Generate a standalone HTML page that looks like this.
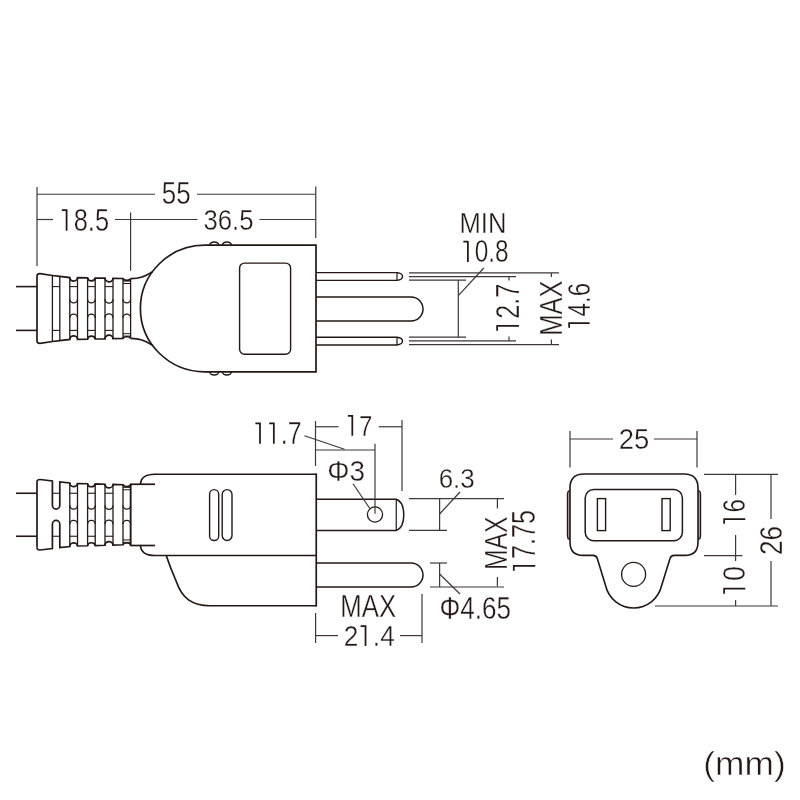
<!DOCTYPE html>
<html><head><meta charset="utf-8"><style>
html,body{margin:0;padding:0;background:#fff;}
svg{display:block;will-change:transform;}
text{font-family:"Liberation Sans",sans-serif;fill:#231815;stroke:#fff;}
</style></head><body>
<svg width="800" height="800" viewBox="0 0 800 800">
<rect width="800" height="800" fill="#fff"/>
<line x1="16" y1="286.6" x2="37" y2="286.6" stroke="#231815" stroke-width="1.6"/>
<line x1="16" y1="330.4" x2="37" y2="330.4" stroke="#231815" stroke-width="1.6"/>
<path d="M37,276.10 Q37,273.60 40,273.70 L52.4,275.47 L59.8,276.36 L69.8,277.58 A3.85,3.4 0 0 0 77.5,277.73 L87.6,277.89 A3.85,3.4 0 0 0 95.2,278.02 L105,278.18 A3.85,3.4 0 0 0 113,278.32 L123,278.48 A3.85,2.0 0 0 0 130.6,278.61" stroke="#231815" stroke-width="1.7" fill="none"/>
<path d="M37,340.90 Q37,343.40 40,343.30 L52.4,341.53 L59.8,340.64 L69.8,339.42 A3.85,3.4 0 0 1 77.5,339.27 L87.6,339.11 A3.85,3.4 0 0 1 95.2,338.98 L105,338.82 A3.85,3.4 0 0 1 113,338.68 L123,338.52 A3.85,2.0 0 0 1 130.6,338.39" stroke="#231815" stroke-width="1.7" fill="none"/>
<line x1="37" y1="276.1" x2="37" y2="340.9" stroke="#231815" stroke-width="1.7"/>
<line x1="52.4" y1="275.4666666666667" x2="52.4" y2="341.5333333333333" stroke="#231815" stroke-width="1.3"/>
<line x1="59.8" y1="276.3636363636364" x2="59.8" y2="340.6363636363636" stroke="#231815" stroke-width="1.3"/>
<line x1="69.8" y1="277.5757575757576" x2="69.8" y2="339.4242424242424" stroke="#231815" stroke-width="1.3"/>
<line x1="77.5" y1="277.725" x2="77.5" y2="339.275" stroke="#231815" stroke-width="1.3"/>
<line x1="87.6" y1="277.8933333333334" x2="87.6" y2="339.1066666666666" stroke="#231815" stroke-width="1.3"/>
<line x1="95.2" y1="278.02000000000004" x2="95.2" y2="338.97999999999996" stroke="#231815" stroke-width="1.3"/>
<line x1="105" y1="278.18333333333334" x2="105" y2="338.81666666666666" stroke="#231815" stroke-width="1.3"/>
<line x1="113" y1="278.31666666666666" x2="113" y2="338.68333333333334" stroke="#231815" stroke-width="1.3"/>
<line x1="123" y1="278.48333333333335" x2="123" y2="338.51666666666665" stroke="#231815" stroke-width="1.3"/>
<line x1="130.6" y1="278.61" x2="130.6" y2="338.39" stroke="#231815" stroke-width="1.3"/>
<line x1="52.4" y1="286.6" x2="59.8" y2="286.6" stroke="#231815" stroke-width="1.1"/>
<line x1="52.4" y1="330.4" x2="59.8" y2="330.4" stroke="#231815" stroke-width="1.1"/>
<line x1="69.8" y1="286.6" x2="77.5" y2="286.6" stroke="#231815" stroke-width="1.1"/>
<line x1="69.8" y1="330.4" x2="77.5" y2="330.4" stroke="#231815" stroke-width="1.1"/>
<path d="M69.8,299.30 A3.85,3.66 0 0 0 77.5,299.30" stroke="#231815" stroke-width="1.3" fill="none"/>
<path d="M69.8,317.70 A3.85,3.66 0 0 1 77.5,317.70" stroke="#231815" stroke-width="1.3" fill="none"/>
<line x1="87.6" y1="286.6" x2="95.2" y2="286.6" stroke="#231815" stroke-width="1.1"/>
<line x1="87.6" y1="330.4" x2="95.2" y2="330.4" stroke="#231815" stroke-width="1.1"/>
<path d="M87.6,299.30 A3.80,3.61 0 0 0 95.2,299.30" stroke="#231815" stroke-width="1.3" fill="none"/>
<path d="M87.6,317.70 A3.80,3.61 0 0 1 95.2,317.70" stroke="#231815" stroke-width="1.3" fill="none"/>
<line x1="105" y1="286.6" x2="113" y2="286.6" stroke="#231815" stroke-width="1.1"/>
<line x1="105" y1="330.4" x2="113" y2="330.4" stroke="#231815" stroke-width="1.1"/>
<path d="M105,299.30 A4.00,3.80 0 0 0 113,299.30" stroke="#231815" stroke-width="1.3" fill="none"/>
<path d="M105,317.70 A4.00,3.80 0 0 1 113,317.70" stroke="#231815" stroke-width="1.3" fill="none"/>
<line x1="123" y1="281.1" x2="130.6" y2="281.1" stroke="#231815" stroke-width="1.0"/>
<line x1="123" y1="283.5" x2="130.6" y2="283.5" stroke="#231815" stroke-width="1.0"/>
<line x1="123" y1="333.7" x2="130.6" y2="333.7" stroke="#231815" stroke-width="1.0"/>
<line x1="123" y1="336.1" x2="130.6" y2="336.1" stroke="#231815" stroke-width="1.0"/>
<path d="M123,299.30 A3.80,3.61 0 0 0 130.6,299.30" stroke="#231815" stroke-width="1.3" fill="none"/>
<path d="M123,317.70 A3.80,3.61 0 0 1 130.6,317.70" stroke="#231815" stroke-width="1.3" fill="none"/>
<path d="M130.6,278.6 C141,278.6 145,276 152.4,272" stroke="#231815" stroke-width="1.7" fill="none"/>
<path d="M130.6,338.4 C141,338.4 145,341 152.4,345" stroke="#231815" stroke-width="1.7" fill="none"/>
<path d="M316,245.2 L205,245.2 A64.6,63.3 0 0 0 205,371.8 L316,371.8 Z" stroke="#231815" stroke-width="1.7" fill="none"/>
<path d="M209.7,245.2 A4.5,3.2 0 0 1 218.7,245.2" stroke="#231815" stroke-width="1.4" fill="none"/>
<path d="M209.7,371.8 A4.5,3.2 0 0 0 218.7,371.8" stroke="#231815" stroke-width="1.4" fill="none"/>
<path d="M222.4,245.2 A4.5,3.2 0 0 1 231.4,245.2" stroke="#231815" stroke-width="1.4" fill="none"/>
<path d="M222.4,371.8 A4.5,3.2 0 0 0 231.4,371.8" stroke="#231815" stroke-width="1.4" fill="none"/>
<rect x="239.6" y="263.1" width="51" height="91.1" rx="5" ry="5" fill="none" stroke="#231815" stroke-width="1.4"/>
<path d="M316,272.6 L397,272.6 Q402.5,273.20000000000005 402.5,276.5 Q402.5,279.79999999999995 397,280.4 L316,280.4" stroke="#231815" stroke-width="1.4" fill="none"/>
<line x1="397" y1="272.6" x2="397" y2="280.4" stroke="#231815" stroke-width="1.2"/>
<path d="M316,337.2 L397,337.2 Q402.5,337.8 402.5,341.1 Q402.5,344.4 397,345.0 L316,345.0" stroke="#231815" stroke-width="1.4" fill="none"/>
<line x1="397" y1="337.2" x2="397" y2="345.0" stroke="#231815" stroke-width="1.2"/>
<path d="M316,297 L411,297 A12,12 0 0 1 411,321 L316,321" stroke="#231815" stroke-width="1.5" fill="none"/>
<line x1="37" y1="187" x2="37" y2="266" stroke="#3e3638" stroke-width="1.2"/>
<line x1="315.75" y1="186.5" x2="315.75" y2="238" stroke="#3e3638" stroke-width="1.2"/>
<line x1="37" y1="194.25" x2="155" y2="194.25" stroke="#3e3638" stroke-width="1.2"/>
<line x1="197" y1="194.25" x2="315.75" y2="194.25" stroke="#3e3638" stroke-width="1.2"/>
<g transform="translate(161.86,204.09) scale(0.8262,1)"><text font-size="31.38" stroke-width="0.35">55</text></g>
<line x1="37" y1="219.5" x2="53" y2="219.5" stroke="#3e3638" stroke-width="1.2"/>
<line x1="115" y1="219.5" x2="197.5" y2="219.5" stroke="#3e3638" stroke-width="1.2"/>
<line x1="259.5" y1="219.5" x2="315.75" y2="219.5" stroke="#3e3638" stroke-width="1.2"/>
<line x1="130.6" y1="212.5" x2="130.6" y2="270.75" stroke="#3e3638" stroke-width="1.2"/>
<g transform="translate(59.57,230.69) scale(0.8186,1)"><text font-size="31.07" stroke-width="0.35"> 8.5</text><path d="M2.80,-20.58 L8.58,-20.58 M8.58,-21.38 L8.58,0" stroke="#231815" stroke-width="1.75" fill="none" vector-effect="non-scaling-stroke"/></g>
<g transform="translate(203.52,229.90) scale(0.8510,1)"><text font-size="30.23" stroke-width="0.35">36.5</text></g>
<line x1="409" y1="272.9" x2="559" y2="272.9" stroke="#3e3638" stroke-width="1.2"/>
<line x1="409" y1="276.6" x2="516" y2="276.6" stroke="#3e3638" stroke-width="1.2"/>
<line x1="409" y1="280.1" x2="466" y2="280.1" stroke="#3e3638" stroke-width="1.2"/>
<line x1="409" y1="337.2" x2="466" y2="337.2" stroke="#3e3638" stroke-width="1.2"/>
<line x1="409" y1="340.9" x2="516" y2="340.9" stroke="#3e3638" stroke-width="1.2"/>
<line x1="409" y1="344.6" x2="559" y2="344.6" stroke="#3e3638" stroke-width="1.2"/>
<line x1="458.3" y1="280.1" x2="458.3" y2="337.2" stroke="#3e3638" stroke-width="1.2"/>
<line x1="458.3" y1="295.6" x2="483.8" y2="268" stroke="#3e3638" stroke-width="1.2"/>
<g transform="translate(459.50,233.00) scale(0.8816,1)"><text font-size="29.07" stroke-width="0.35">MIN</text></g>
<g transform="translate(461.14,262.09) scale(0.7928,1)"><text font-size="30.79" stroke-width="0.35"> 0.8</text><path d="M2.77,-20.38 L8.50,-20.38 M8.50,-21.18 L8.50,0" stroke="#231815" stroke-width="1.75" fill="none" vector-effect="non-scaling-stroke"/></g>
<line x1="509" y1="276.6" x2="509" y2="280.5" stroke="#3e3638" stroke-width="1.2"/>
<line x1="509" y1="336.5" x2="509" y2="340.9" stroke="#3e3638" stroke-width="1.2"/>
<g transform="translate(519.00,332.92) rotate(-90) scale(0.7670,1)"><text font-size="32.95" stroke-width="0.35"> 2.7</text><path d="M2.97,-21.87 L9.09,-21.87 M9.09,-22.67 L9.09,0" stroke="#231815" stroke-width="1.75" fill="none" vector-effect="non-scaling-stroke"/></g>
<line x1="551.4" y1="272.9" x2="551.4" y2="277" stroke="#3e3638" stroke-width="1.2"/>
<line x1="551.4" y1="339.5" x2="551.4" y2="344.6" stroke="#3e3638" stroke-width="1.2"/>
<g transform="translate(562.00,335.69) rotate(-90) scale(0.7970,1)"><text font-size="31.98" stroke-width="0.35">MAX</text></g>
<g transform="translate(589.69,329.83) rotate(-90) scale(0.7755,1)"><text font-size="31.07" stroke-width="0.35"> 4.6</text><path d="M2.80,-20.58 L8.58,-20.58 M8.58,-21.38 L8.58,0" stroke="#231815" stroke-width="1.75" fill="none" vector-effect="non-scaling-stroke"/></g>
<line x1="16" y1="493.25" x2="37" y2="493.25" stroke="#231815" stroke-width="1.6"/>
<line x1="16" y1="536.25" x2="37" y2="536.25" stroke="#231815" stroke-width="1.6"/>
<path d="M37,481.90 Q37,479.40 40,479.50 L52.4,481.00 L52.4,505.35 A3.7,3.7 0 0 0 59.8,505.35 L59.8,482.00 L69.8,483.00 A3.85,3.4 0 0 0 77.5,483.50 L87.6,483.77 A3.85,3.4 0 0 0 95.2,483.97 L105,484.23 A3.85,3.4 0 0 0 113,484.45 L123,484.71 A3.85,2.0 0 0 0 130.6,484.92" stroke="#231815" stroke-width="1.7" fill="none"/>
<path d="M37,547.60 Q37,550.10 40,550.00 L52.4,548.50 L52.4,524.15 A3.7,3.7 0 0 1 59.8,524.15 L59.8,547.50 L69.8,546.50 A3.85,3.4 0 0 1 77.5,546.00 L87.6,545.73 A3.85,3.4 0 0 1 95.2,545.53 L105,545.27 A3.85,3.4 0 0 1 113,545.05 L123,544.79 A3.85,2.0 0 0 1 130.6,544.58" stroke="#231815" stroke-width="1.7" fill="none"/>
<line x1="37" y1="481.9" x2="37" y2="547.6" stroke="#231815" stroke-width="1.7"/>
<line x1="69.8" y1="483.0" x2="69.8" y2="546.5" stroke="#231815" stroke-width="1.3"/>
<line x1="77.5" y1="483.5" x2="77.5" y2="546.0" stroke="#231815" stroke-width="1.3"/>
<line x1="87.6" y1="483.76933333333335" x2="87.6" y2="545.7306666666666" stroke="#231815" stroke-width="1.3"/>
<line x1="95.2" y1="483.97200000000004" x2="95.2" y2="545.528" stroke="#231815" stroke-width="1.3"/>
<line x1="105" y1="484.23333333333335" x2="105" y2="545.2666666666667" stroke="#231815" stroke-width="1.3"/>
<line x1="113" y1="484.44666666666666" x2="113" y2="545.0533333333333" stroke="#231815" stroke-width="1.3"/>
<line x1="123" y1="484.71333333333337" x2="123" y2="544.7866666666666" stroke="#231815" stroke-width="1.3"/>
<line x1="130.6" y1="484.916" x2="130.6" y2="544.5840000000001" stroke="#231815" stroke-width="1.3"/>
<line x1="52.4" y1="493.25" x2="59.8" y2="493.25" stroke="#231815" stroke-width="1.1"/>
<line x1="52.4" y1="536.25" x2="59.8" y2="536.25" stroke="#231815" stroke-width="1.1"/>
<line x1="69.8" y1="493.25" x2="77.5" y2="493.25" stroke="#231815" stroke-width="1.1"/>
<line x1="69.8" y1="536.25" x2="77.5" y2="536.25" stroke="#231815" stroke-width="1.1"/>
<path d="M69.8,505.55 A3.85,3.66 0 0 0 77.5,505.55" stroke="#231815" stroke-width="1.3" fill="none"/>
<path d="M69.8,523.95 A3.85,3.66 0 0 1 77.5,523.95" stroke="#231815" stroke-width="1.3" fill="none"/>
<line x1="87.6" y1="493.25" x2="95.2" y2="493.25" stroke="#231815" stroke-width="1.1"/>
<line x1="87.6" y1="536.25" x2="95.2" y2="536.25" stroke="#231815" stroke-width="1.1"/>
<path d="M87.6,505.55 A3.80,3.61 0 0 0 95.2,505.55" stroke="#231815" stroke-width="1.3" fill="none"/>
<path d="M87.6,523.95 A3.80,3.61 0 0 1 95.2,523.95" stroke="#231815" stroke-width="1.3" fill="none"/>
<line x1="105" y1="493.25" x2="113" y2="493.25" stroke="#231815" stroke-width="1.1"/>
<line x1="105" y1="536.25" x2="113" y2="536.25" stroke="#231815" stroke-width="1.1"/>
<path d="M105,505.55 A4.00,3.80 0 0 0 113,505.55" stroke="#231815" stroke-width="1.3" fill="none"/>
<path d="M105,523.95 A4.00,3.80 0 0 1 113,523.95" stroke="#231815" stroke-width="1.3" fill="none"/>
<line x1="123" y1="487.35" x2="130.6" y2="487.35" stroke="#231815" stroke-width="1.0"/>
<line x1="123" y1="489.75" x2="130.6" y2="489.75" stroke="#231815" stroke-width="1.0"/>
<line x1="123" y1="539.95" x2="130.6" y2="539.95" stroke="#231815" stroke-width="1.0"/>
<line x1="123" y1="542.35" x2="130.6" y2="542.35" stroke="#231815" stroke-width="1.0"/>
<path d="M123,505.55 A3.80,3.61 0 0 0 130.6,505.55" stroke="#231815" stroke-width="1.3" fill="none"/>
<path d="M123,523.95 A3.80,3.61 0 0 1 130.6,523.95" stroke="#231815" stroke-width="1.3" fill="none"/>
<line x1="130.6" y1="484.25" x2="155" y2="484.25" stroke="#231815" stroke-width="1.7"/>
<line x1="130.6" y1="545.5" x2="155" y2="545.5" stroke="#231815" stroke-width="1.7"/>
<line x1="130.6" y1="483.6" x2="130.6" y2="546.1" stroke="#231815" stroke-width="1.7"/>
<path d="M316.25,474.25 L155,474.25 Q141,474.25 140.5,484.25" stroke="#231815" stroke-width="1.7" fill="none"/>
<path d="M140.5,545.5 Q141,555.5 155,555.5 L316.25,555.5" stroke="#231815" stroke-width="1.7" fill="none"/>
<line x1="316.25" y1="473.4" x2="316.25" y2="606.6" stroke="#231815" stroke-width="1.7"/>
<path d="M166.25,555.5 C170,567 173,574 176.5,582 C182,598 192,605.75 210,605.75 L316.25,605.75" stroke="#231815" stroke-width="1.7" fill="none"/>
<rect x="209.6" y="489.6" width="9.1" height="50.9" rx="4.55" ry="4.55" fill="none" stroke="#231815" stroke-width="1.4"/>
<rect x="222.2" y="489.6" width="9.8" height="50.9" rx="4.9" ry="4.9" fill="none" stroke="#231815" stroke-width="1.4"/>
<path d="M316.25,499.25 L396.25,499.25 Q403.75,502 403.75,514.9 Q403.75,527.5 396.25,530.5 L316.25,530.5" stroke="#231815" stroke-width="1.5" fill="none"/>
<line x1="396.25" y1="499.25" x2="396.25" y2="530.5" stroke="#231815" stroke-width="1.2"/>
<circle cx="375" cy="514.5" r="7.6" fill="none" stroke="#231815" stroke-width="1.3"/>
<path d="M316.25,563 L411,563 A12,12 0 0 1 411,587 L316.25,587" stroke="#231815" stroke-width="1.5" fill="none"/>
<line x1="315.5" y1="421" x2="315.5" y2="466" stroke="#3e3638" stroke-width="1.2"/>
<line x1="315.5" y1="426.75" x2="338.5" y2="426.75" stroke="#3e3638" stroke-width="1.2"/>
<line x1="378.75" y1="426.75" x2="402" y2="426.75" stroke="#3e3638" stroke-width="1.2"/>
<line x1="402" y1="420" x2="402" y2="491" stroke="#3e3638" stroke-width="1.2"/>
<g transform="translate(345.67,435.75) scale(0.7987,1)"><text font-size="30.16" stroke-width="0.35"> 7</text><path d="M2.71,-19.95 L8.32,-19.95 M8.32,-20.75 L8.32,0" stroke="#231815" stroke-width="1.75" fill="none" vector-effect="non-scaling-stroke"/></g>
<line x1="315.5" y1="450" x2="375" y2="450" stroke="#3e3638" stroke-width="1.2"/>
<line x1="375" y1="443.75" x2="375" y2="513.75" stroke="#3e3638" stroke-width="1.2"/>
<g transform="translate(253.11,443.75) scale(0.8066,1)"><text font-size="30.89" stroke-width="0.35">  .7</text><path d="M2.78,-20.45 L8.52,-20.45 M8.52,-21.25 L8.52,0" stroke="#231815" stroke-width="1.75" fill="none" vector-effect="non-scaling-stroke"/><path d="M19.95,-20.45 L25.70,-20.45 M25.70,-21.25 L25.70,0" stroke="#231815" stroke-width="1.75" fill="none" vector-effect="non-scaling-stroke"/></g>
<line x1="304.5" y1="435.75" x2="344.5" y2="449.25" stroke="#3e3638" stroke-width="1.2"/>
<g transform="translate(327.16,480.95) scale(0.9307,1)"><text font-size="30.01" stroke-width="0.35">Φ3</text></g>
<line x1="353" y1="483.75" x2="370" y2="508.75" stroke="#3e3638" stroke-width="1.2"/>
<line x1="409" y1="498.6" x2="504" y2="498.6" stroke="#3e3638" stroke-width="1.2"/>
<line x1="409" y1="530.4" x2="447" y2="530.4" stroke="#3e3638" stroke-width="1.2"/>
<line x1="439.6" y1="498.6" x2="439.6" y2="530.4" stroke="#3e3638" stroke-width="1.2"/>
<line x1="439.6" y1="514" x2="460" y2="492" stroke="#3e3638" stroke-width="1.2"/>
<g transform="translate(438.68,487.72) scale(0.9185,1)"><text font-size="28.25" stroke-width="0.35">6.3</text></g>
<line x1="497.4" y1="498.6" x2="497.4" y2="508.5" stroke="#3e3638" stroke-width="1.2"/>
<line x1="497.4" y1="577" x2="497.4" y2="586.6" stroke="#3e3638" stroke-width="1.2"/>
<g transform="translate(507.00,570.03) rotate(-90) scale(0.7727,1)"><text font-size="31.98" stroke-width="0.35">MAX</text></g>
<g transform="translate(535.28,572.91) rotate(-90) scale(0.7773,1)"><text font-size="32.38" stroke-width="0.35"> 7.75</text><path d="M2.91,-21.48 L8.94,-21.48 M8.94,-22.28 L8.94,0" stroke="#231815" stroke-width="1.75" fill="none" vector-effect="non-scaling-stroke"/></g>
<line x1="430" y1="563" x2="447" y2="563" stroke="#3e3638" stroke-width="1.2"/>
<line x1="430" y1="587" x2="504" y2="587" stroke="#3e3638" stroke-width="1.2"/>
<line x1="439.6" y1="563" x2="439.6" y2="587" stroke="#3e3638" stroke-width="1.2"/>
<line x1="439.6" y1="574" x2="460" y2="594" stroke="#3e3638" stroke-width="1.2"/>
<g transform="translate(439.51,618.89) scale(0.8320,1)"><text font-size="31.36" stroke-width="0.35">Φ4.65</text></g>
<line x1="315.6" y1="613" x2="315.6" y2="643" stroke="#3e3638" stroke-width="1.2"/>
<line x1="422" y1="594" x2="422" y2="643" stroke="#3e3638" stroke-width="1.2"/>
<line x1="315.6" y1="635.6" x2="338" y2="635.6" stroke="#3e3638" stroke-width="1.2"/>
<line x1="400" y1="635.6" x2="422" y2="635.6" stroke="#3e3638" stroke-width="1.2"/>
<g transform="translate(340.29,617.00) scale(0.8444,1)"><text font-size="30.52" stroke-width="0.35">MAX</text></g>
<g transform="translate(343.69,646.00) scale(0.8723,1)"><text font-size="30.09" stroke-width="0.35">2 .4</text><path d="M19.44,-19.90 L25.03,-19.90 M25.03,-20.70 L25.03,0" stroke="#231815" stroke-width="1.75" fill="none" vector-effect="non-scaling-stroke"/></g>
<line x1="570" y1="431" x2="570" y2="467.6" stroke="#3e3638" stroke-width="1.2"/>
<line x1="697" y1="431" x2="697" y2="467.6" stroke="#3e3638" stroke-width="1.2"/>
<line x1="570" y1="439" x2="613" y2="439" stroke="#3e3638" stroke-width="1.2"/>
<line x1="654" y1="439" x2="697" y2="439" stroke="#3e3638" stroke-width="1.2"/>
<g transform="translate(618.63,448.70) scale(0.9082,1)"><text font-size="30.23" stroke-width="0.35">25</text></g>
<path d="M570.5,489.7 L568,491.5 L567.4,494 L567.4,536 L568,538.5 L570.5,540" stroke="#231815" stroke-width="1.2" fill="#a39a9a"/>
<path d="M697.5,489.7 L700,491.5 L700.6,494 L700.6,536 L700,538.5 L697.5,540" stroke="#231815" stroke-width="1.2" fill="#a39a9a"/>
<path d="M584,474 L684,474 Q698,474 698,488 L698,542 Q698,555.4 685,555.4 L674,555.4 Q671,555.4 670,558.5 L661.5,586 A28.7,28.7 0 0 1 605.7,586 L597.3,558.5 Q596.3,555.4 593,555.4 L583,555.4 Q570,555.4 570,542 L570,488 Q570,474 584,474 Z" stroke="#231815" stroke-width="1.6" fill="#fff"/>
<rect x="585.2" y="489.6" width="97.2" height="51.2" rx="8.5" ry="8.5" fill="none" stroke="#231815" stroke-width="1.5"/>
<rect x="597.4" y="498.6" width="8.2" height="32" fill="none" stroke="#231815" stroke-width="1.4"/>
<rect x="662" y="498.6" width="8.2" height="32" fill="none" stroke="#231815" stroke-width="1.4"/>
<circle cx="633.6" cy="574.4" r="12" fill="none" stroke="#231815" stroke-width="1.3"/>
<line x1="704" y1="474.4" x2="778" y2="474.4" stroke="#3e3638" stroke-width="1.2"/>
<line x1="704" y1="555.6" x2="742.4" y2="555.6" stroke="#3e3638" stroke-width="1.2"/>
<line x1="655" y1="606" x2="778" y2="606" stroke="#3e3638" stroke-width="1.2"/>
<line x1="735.6" y1="474.4" x2="735.6" y2="495" stroke="#3e3638" stroke-width="1.2"/>
<line x1="735.6" y1="535" x2="735.6" y2="561" stroke="#3e3638" stroke-width="1.2"/>
<line x1="735.6" y1="600" x2="735.6" y2="606" stroke="#3e3638" stroke-width="1.2"/>
<g transform="translate(745.28,525.84) rotate(-90) scale(0.7579,1)"><text font-size="31.92" stroke-width="0.35"> 6</text><path d="M2.87,-21.16 L8.81,-21.16 M8.81,-21.96 L8.81,0" stroke="#231815" stroke-width="1.75" fill="none" vector-effect="non-scaling-stroke"/></g>
<g transform="translate(745.28,596.06) rotate(-90) scale(0.8484,1)"><text font-size="31.92" stroke-width="0.35"> 0</text><path d="M2.87,-21.16 L8.81,-21.16 M8.81,-21.96 L8.81,0" stroke="#231815" stroke-width="1.75" fill="none" vector-effect="non-scaling-stroke"/></g>
<line x1="771" y1="474.4" x2="771" y2="519" stroke="#3e3638" stroke-width="1.2"/>
<line x1="771" y1="561" x2="771" y2="606" stroke="#3e3638" stroke-width="1.2"/>
<g transform="translate(781.69,554.91) rotate(-90) scale(0.8409,1)"><text font-size="31.07" stroke-width="0.35">26</text></g>
<g transform="translate(703.31,774.92) scale(1.0707,1)"><text font-size="32.99" stroke-width="0.5">(mm)</text></g>
</svg></body></html>
